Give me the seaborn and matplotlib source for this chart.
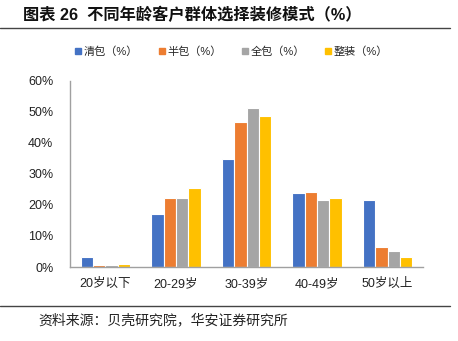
import matplotlib
matplotlib.use("Agg")
import matplotlib.pyplot as plt
import seaborn as sns
import pandas as pd
from matplotlib.lines import Line2D
from matplotlib.ticker import PercentFormatter

categories = ["20岁以下", "20-29岁", "30-39岁", "40-49岁", "50岁以上"]
series_names = ["清包（%）", "半包（%）", "全包（%）", "整装（%）"]
qingbao = [3.1, 17.0, 34.7, 23.9, 21.6]
banbao = [0.8, 22.3, 46.8, 24.2, 6.3]
quanbao = [0.5, 22.1, 51.0, 21.4, 5.1]
zhengzhuang = [1.0, 25.3, 48.7, 22.3, 3.1]
yticks = [0, 10, 20, 30, 40, 50, 60]
colors = ["#4472C4", "#ED7D31", "#A5A5A5", "#FFC000"]

title = "图表 26  不同年龄客户群体选择装修模式（%）"
source = "资料来源：贝壳研究院，华安证券研究所"

sns.set_theme(style="white")
plt.rcParams["font.family"] = ["Liberation Sans", "Noto Sans CJK SC", "DejaVu Sans"]

rows = []
for name, vals in zip(series_names, [qingbao, banbao, quanbao, zhengzhuang]):
    for c, v in zip(categories, vals):
        rows.append({"age": c, "series": name, "value": v})
df = pd.DataFrame(rows)

fig = plt.figure(figsize=(4.58, 3.41), dpi=100)
ax = fig.add_axes([70 / 458, 1 - 267 / 341, (423 - 70) / 458, (267 - 80.5) / 341])

sns.barplot(data=df, x="age", y="value", hue="series", order=categories,
            hue_order=series_names, palette=colors, width=0.7,
            edgecolor="white", linewidth=0.8, saturation=1, ax=ax, legend=False)

ax.set_ylim(0, 60)
ax.set_yticks(yticks)
ax.yaxis.set_major_formatter(PercentFormatter(decimals=0))
ax.set_xlabel("")
ax.set_ylabel("")
ax.tick_params(axis="both", length=0, labelsize=9, colors="#222222")
ax.tick_params(axis="y", pad=12)
ax.tick_params(axis="x", pad=8)
for s in ["top", "right"]:
    ax.spines[s].set_visible(False)
for s in ["left", "bottom"]:
    ax.spines[s].set_color("#A0A0A0")
    ax.spines[s].set_linewidth(1)
ax.grid(False)

handles = [Line2D([0], [0], marker="s", linestyle="none", markersize=5,
                  markerfacecolor=c, markeredgecolor=c) for c in colors]
fig.legend(handles, series_names, loc="center", bbox_to_anchor=(231 / 458, 1 - 51.5 / 341),
           ncol=4, frameon=False, fontsize=8, handletextpad=0.1,
           columnspacing=1.7, handlelength=0.8)

fig.text(23 / 458, 1 - 15 / 341, title, fontsize=11.7, fontweight="bold",
         va="center", ha="left", color="#111111")
fig.add_artist(Line2D([0, 450 / 458], [1 - 28.3 / 341] * 2, color="#444444", lw=1))
fig.add_artist(Line2D([0, 450 / 458], [1 - 305.8 / 341] * 2, color="#444444", lw=1))
fig.text(38 / 458, 1 - 320 / 341, source, fontsize=10, va="center", ha="left",
         color="#222222")

fig.savefig("out.png", dpi=100)
